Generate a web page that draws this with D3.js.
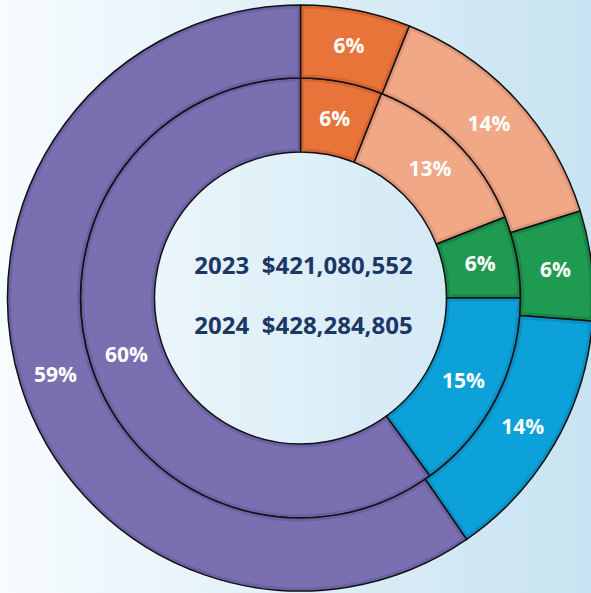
<!DOCTYPE html>
<html>
<head>
<meta charset="utf-8">
<script src="https://cdn.jsdelivr.net/npm/d3@7"></script>
<style>
  html, body { margin: 0; padding: 0; }
  body { width: 591px; height: 593px; overflow: hidden; }
</style>
</head>
<body>
<div id="chart"></div>
<script>
// two-year spend split, inner ring 2023, outer ring 2024
var categories = ["A", "B", "C", "D", "E"];
var values2023 = [6, 13, 6, 15, 60];
var values2024 = [6, 14, 6, 14, 59];
var totals = [
  {year: "2023", amount: "$421,080,552"},
  {year: "2024", amount: "$428,284,805"}
];
var fills = ["#E8743A", "#F1A886", "#1F9A51", "#0CA1D9", "#7A6FB0"];
var edges = ["#D4652F", "#DE9677", "#188647", "#0B8FC4", "#6C61A3"];

var width = 591, height = 593,
    cx = 300.5, cy = 298,
    rHole = 146, rMid = 220, rOuter = 293;

var svg = d3.select("#chart").append("svg")
    .attr("width", width)
    .attr("height", height);

var defs = svg.append("defs");
var grad = defs.append("linearGradient")
    .attr("id", "bg")
    .attr("x1", "0%").attr("x2", "100%")
    .attr("y1", "0%").attr("y2", "0%");
grad.append("stop").attr("offset", "0%").attr("stop-color", "#F7FCFE");
grad.append("stop").attr("offset", "100%").attr("stop-color", "#C7E3F1");

svg.append("rect")
    .attr("width", width)
    .attr("height", height)
    .attr("fill", "url(#bg)");

var g = svg.append("g")
    .attr("transform", "translate(" + cx + "," + cy + ")");

var color = d3.scaleOrdinal().domain(categories).range(fills);
var edgeColor = d3.scaleOrdinal().domain(categories).range(edges);

var pie = d3.pie()
    .sort(null)
    .value(function(d) { return d.value; });

function ring(values, r0, r1, key) {
  var arc = d3.arc().innerRadius(r0).outerRadius(r1);
  var data = pie(categories.map(function(c, i) { return {cat: c, value: values[i]}; }));

  var slice = g.append("g").attr("class", "ring-" + key)
    .selectAll("g")
    .data(data)
    .enter().append("g");

  slice.each(function(d, i) {
    var id = "clip-" + key + "-" + i;
    defs.append("clipPath").attr("id", id)
      .append("path").attr("d", arc(d));
    var s = d3.select(this);
    s.append("path")
        .attr("d", arc(d))
        .attr("fill", color(d.data.cat));
    // darker inner rim
    s.append("path")
        .attr("d", arc(d))
        .attr("fill", "none")
        .attr("stroke", edgeColor(d.data.cat))
        .attr("stroke-width", 7)
        .attr("clip-path", "url(#" + id + ")");
    s.append("path")
        .attr("d", arc(d))
        .attr("fill", "none")
        .attr("stroke", "#111")
        .attr("stroke-width", 1.5);
  });

  slice.append("text")
      .attr("transform", function(d) { return "translate(" + arc.centroid(d) + ")"; })
      .attr("text-anchor", "middle")
      .attr("dy", "0.35em")
      .style("font-family", "'Open Sans', sans-serif")
      .style("font-weight", "700")
      .style("font-size", "21px")
      .style("fill", "#fff")
      .text(function(d) { return d.data.value + "%"; });
}

ring(values2023, rHole, rMid, "y2023");
ring(values2024, rMid, rOuter, "y2024");

g.append("g").selectAll("text")
    .data(totals)
  .enter().append("text")
    .attr("x", 3)
    .attr("y", function(d, i) { return -32 + i * 60; })
    .attr("dy", "0.35em")
    .attr("text-anchor", "middle")
    .attr("xml:space", "preserve")
    .style("font-family", "'Open Sans', sans-serif")
    .style("font-weight", "700")
    .style("font-size", "24px")
    .style("fill", "#1B3766")
    .text(function(d) { return d.year + "  " + d.amount; });
</script>
</body>
</html>
